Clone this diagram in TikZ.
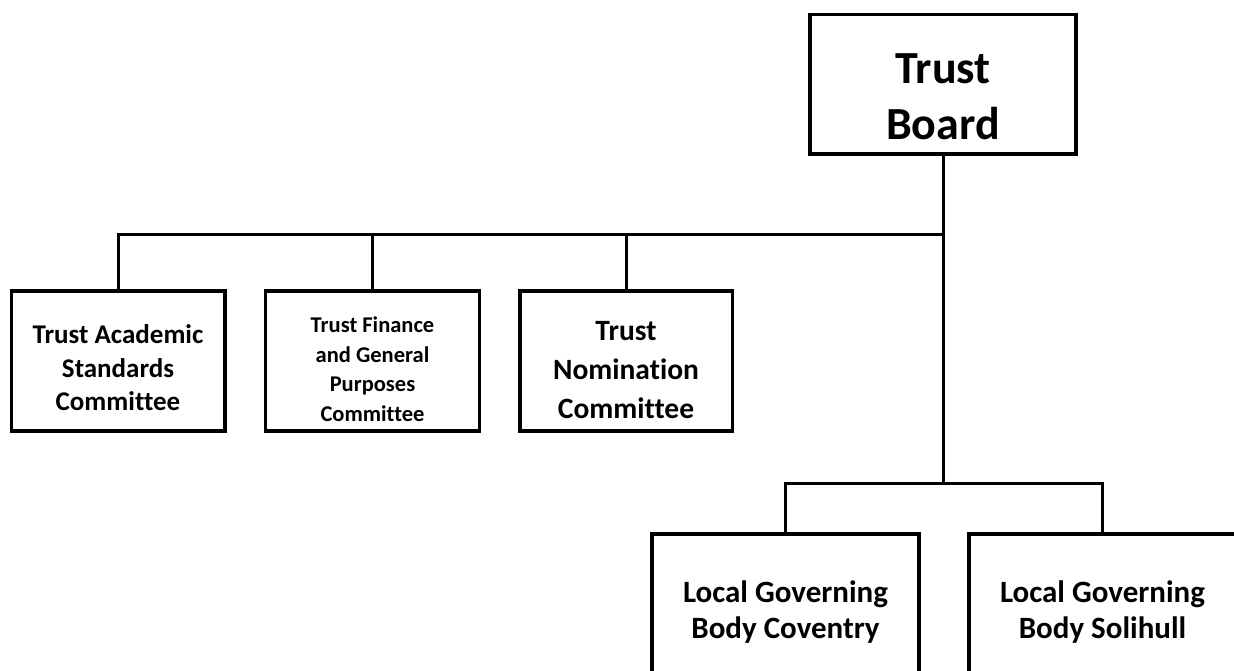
\documentclass[tikz,border=0pt]{standalone}
\usepackage{fontspec}
\setmainfont[Ligatures=NoCommon]{Carlito}
\begin{document}
\begin{tikzpicture}[x=1pt,y=-1pt,
  box/.style={draw=black,line width=3.5pt,rectangle,inner sep=0pt,minimum height=140pt},
  conn/.style={draw=black,line width=3pt},
  lbl/.style={inner sep=0pt,align=center,text=black},
  fbig/.style={font=\fontsize{46}{56}\selectfont\bfseries},
  fmid/.style={font=\fontsize{27}{33.5}\selectfont\bfseries},
  fsmall/.style={font=\fontsize{22.5}{29.5}\selectfont\bfseries},
  fnom/.style={font=\fontsize{29.5}{39}\selectfont\bfseries},
  flocal/.style={font=\fontsize{31}{36.5}\selectfont\bfseries}]
\clip (0,0) rectangle (1234,670);
\fill[white] (0,0) rectangle (1234,670);

% boxes
\node[box,minimum width=266pt,minimum height=139.5pt] (tb) at (943,84.2) {};
\node[box,minimum width=213.5pt] (tas) at (118,361) {};
\node[box,minimum width=214pt] (tfg) at (372.5,361) {};
\node[box,minimum width=212.5pt] (tnc) at (626,361) {};
\node[box,minimum width=267pt,minimum height=200pt] (lgbc) at (785.5,634) {};
\node[box,minimum width=267pt,minimum height=200pt] (lgbs) at (1102.5,634) {};

% texts
\node[lbl,fbig] (tbt) at (943,97) {Trust\\Board};
\node[lbl,fmid] (tast) at (118,368) {Trust Academic\\Standards\\Committee};
\node[lbl,fsmall] (tfgt) at (372.5,369) {Trust Finance\\and General\\Purposes\\Committee};
\node[lbl,fnom] (tnct) at (626,370) {Trust\\Nomination\\Committee};
\node[lbl,flocal] (lgbct) at (785.5,612) {Local Governing\\Body Coventry};
\node[lbl,flocal] (lgbst) at (1102.5,612) {Local Governing\\Body Solihull};

% connectors
\coordinate (bus) at (943,234);
\coordinate (sub) at (943,483.5);
\draw[conn] (tb.south) -- (sub);
\draw[conn] (tas.north) |- (bus);
\draw[conn] (tfg.north) -- (tfg.north |- bus);
\draw[conn] (tnc.north) -- (tnc.north |- bus);
\draw[conn] (lgbc.north) |- (sub) -| (lgbs.north);
\end{tikzpicture}
\end{document}
